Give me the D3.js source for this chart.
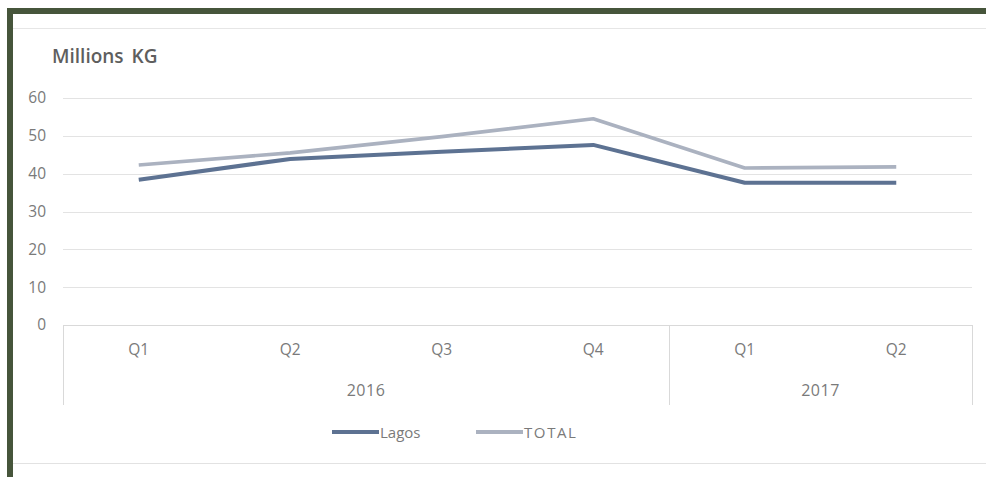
<!DOCTYPE html>
<html><head><meta charset="utf-8">
<script src="https://cdn.jsdelivr.net/npm/d3@7"></script>
<style>
html,body{margin:0;padding:0;background:#fff;}
svg{display:block;}
text{font-family:"Open Sans",sans-serif;}
</style></head>
<body>
<svg id="c" width="986" height="477"></svg>
<script>
const quarters = ["Q1","Q2","Q3","Q4","Q1","Q2"];
const yearGroups = [{year:"2016", n:4},{year:"2017", n:2}];
const lagos = [38.4, 43.9, 45.8, 47.6, 37.6, 37.6];
const total = [42.3, 45.5, 49.8, 54.5, 41.5, 41.8];
const yTicks = [0,10,20,30,40,50,60];
const seriesNames = ["Lagos","TOTAL"];
const colors = {Lagos:"#5d7292", TOTAL:"#abb2c0"};

const svg = d3.select("#c");
// frame
svg.append("rect").attr("x",7).attr("y",8).attr("width",979).attr("height",6).attr("fill","#46553b");
svg.append("rect").attr("x",7).attr("y",8).attr("width",6).attr("height",469).attr("fill","#46553b");
svg.append("line").attr("x1",13).attr("x2",986).attr("y1",28.5).attr("y2",28.5).attr("stroke","#e6e6e6");
svg.append("line").attr("x1",13).attr("x2",986).attr("y1",463.5).attr("y2",463.5).attr("stroke","#e2e2e2");

const x0 = 63, x1 = 972;
const idx = d3.range(quarters.length);
const x = d3.scaleBand().domain(idx).range([x0,x1]);
const y = d3.scaleLinear().domain([0,60]).range([325,98]);
const txt = "#7a7a7a";

// gridlines
svg.append("g").selectAll("line").data(yTicks.filter(d=>d>0)).join("line")
  .attr("x1",x0).attr("x2",x1).attr("y1",d=>Math.round(y(d))+0.5).attr("y2",d=>Math.round(y(d))+0.5)
  .attr("stroke","#e3e3e3").attr("stroke-width",1);

// y axis labels
const yAxis = d3.axisLeft(y).tickValues(yTicks).tickSize(0).tickPadding(0);
const ga = svg.append("g").attr("transform","translate(46,0)").call(yAxis);
ga.select(".domain").remove();
ga.selectAll("text").attr("font-size",15.5).attr("fill",txt).attr("font-family","Open Sans");

// x axis baseline
svg.append("line").attr("x1",x0).attr("x2",x1).attr("y1",325.5).attr("y2",325.5).attr("stroke","#d9d9d9");
// category separators
let acc = 0;
const seps = [0];
yearGroups.forEach(g=>{acc+=g.n; seps.push(acc);});
svg.append("g").selectAll("line").data(seps).join("line")
  .attr("x1",d=> Math.round(d===quarters.length? x1 : x(d))+0.5)
  .attr("x2",d=> Math.round(d===quarters.length? x1 : x(d))+0.5)
  .attr("y1",325).attr("y2",405).attr("stroke","#d9d9d9");

const xAxis = d3.axisBottom(x).tickFormat(i=>quarters[i]).tickSize(0).tickPadding(0);
const gx = svg.append("g").attr("transform","translate(0,354.5)").call(xAxis);
gx.select(".domain").remove();
gx.selectAll("text").attr("font-size",15.5).attr("fill",txt).attr("dy",0).attr("y",0);

// year labels
let start = 0;
yearGroups.forEach(g=>{
  const a = x(start), b = (start+g.n===quarters.length)? x1 : x(start+g.n);
  svg.append("text").attr("x",(a+b)/2).attr("y",395.5).attr("text-anchor","middle")
    .attr("font-size",16).attr("letter-spacing","0.5px").attr("fill",txt).text(g.year);
  start += g.n;
});

// lines
const line = d3.line().x((d,i)=>x(i)+x.bandwidth()/2).y(d=>y(d));
svg.append("path").datum(total).attr("d",line).attr("fill","none")
  .attr("stroke",colors.TOTAL).attr("stroke-width",3.6).attr("stroke-linejoin","round");
svg.append("path").datum(lagos).attr("d",line).attr("fill","none")
  .attr("stroke",colors.Lagos).attr("stroke-width",4).attr("stroke-linejoin","round");

// title
svg.append("text").attr("x",52).attr("y",63).attr("font-size",19).attr("font-weight",600).attr("fill","#5e5e5e")
  .attr("word-spacing","3px").text("Millions KG");

// legend
const legX = [332, 476];
const legSpacing = [0, 1.6];
seriesNames.forEach((s,i)=>{
  svg.append("line").attr("x1",legX[i]).attr("x2",legX[i]+47).attr("y1",432).attr("y2",432)
    .attr("stroke",colors[s]).attr("stroke-width",4);
  svg.append("text").attr("x",legX[i]+48).attr("y",437.5).attr("font-size",15)
    .attr("letter-spacing",legSpacing[i]+"px").attr("fill",txt).text(s);
});
</script>
</body></html>
